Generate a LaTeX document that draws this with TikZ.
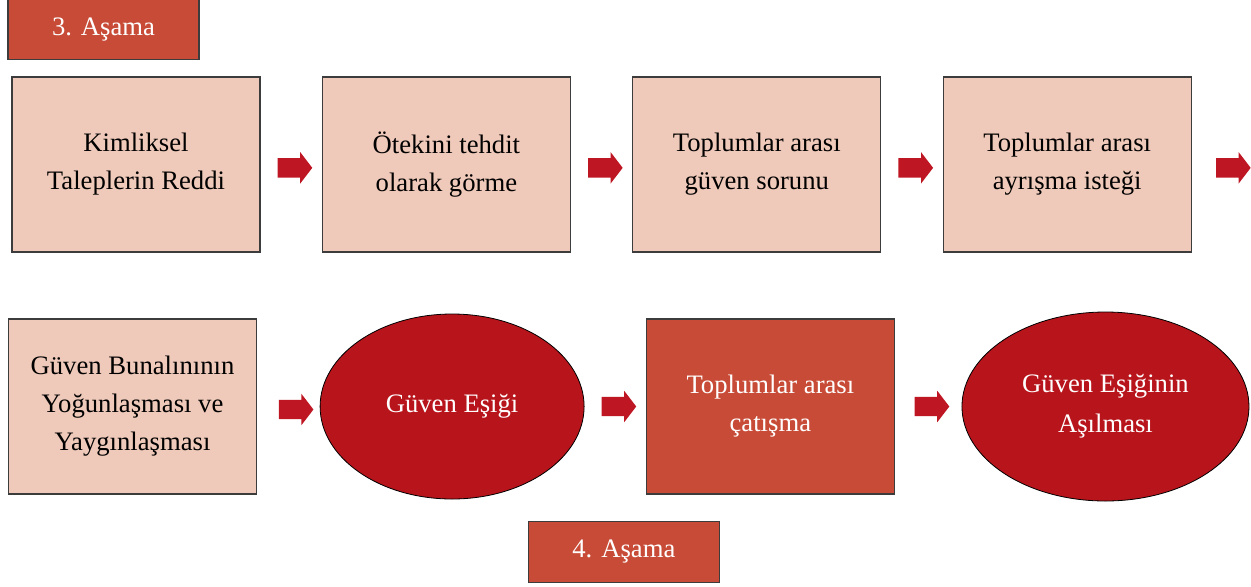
\documentclass[tikz,border=0pt]{standalone}
\usepackage{fontspec}
\setmainfont{Liberation Serif}
\usepackage{xcolor}
\usepackage{tikz}
\usetikzlibrary{positioning, calc, shapes.geometric, shapes.arrows}
\definecolor{asamapale}{HTML}{EFC9B9}
\definecolor{asamaorange}{HTML}{C84B37}
\definecolor{asamared}{HTML}{B8141B}
\definecolor{asamaarrow}{HTML}{BE1622}
\definecolor{asamadark}{HTML}{3C3C3C}
\tikzset{
  stepbox/.style={draw=asamadark, line width=0.8pt, fill=asamapale, align=center,
                  minimum width=186pt, minimum height=131.25pt, inner sep=4pt,
                  font=\fontsize{20}{28.5}\selectfont},
  hotbox/.style={stepbox, fill=asamaorange, text=white},
  oval/.style={ellipse, draw=black, line width=0.6pt, fill=asamared, text=white,
               align=center, inner sep=0pt, font=\fontsize{20}{30}\selectfont},
  stagebox/.style={draw=asamadark, line width=0.8pt, fill=asamaorange, text=white,
                   minimum width=143.25pt, minimum height=45.75pt, inner sep=0pt,
                   font=\fontsize{20}{24}\selectfont},
  flowarrow/.style={single arrow, fill=asamaarrow, draw=none, inner xsep=0pt,
                    inner ysep=7.1pt, minimum height=26pt,
                    single arrow head extend=4.5pt, single arrow tip angle=105},
}
\begin{document}
\begin{tikzpicture}[x=0.75pt, y=-0.75pt, node distance=46pt]
  \useasboundingbox (0,0) rectangle (1251,586);

  % 3. Asama
  \node[stepbox] (ret) at (136,164.5) {Kimliksel\\Taleplerin Reddi};
  \node[stepbox, right=of ret] (tehdit) {Ötekini tehdit\\olarak görme};
  \node[stepbox, right=of tehdit] (guven) {Toplumlar arası\\güven sorunu};
  \node[stepbox, right=of guven] (ayrisma) {Toplumlar arası\\ayrışma isteği};
  \node[stagebox, above right=12pt and -3pt of ret.north west] (asama3) {3. Aşama};

  % 4. Asama
  \node[stepbox] (bunalim) at (132.5,406.5)
    {Güven Bunalınının\\Yoğunlaşması ve\\Yaygınlaşması};
  \node[oval, minimum width=198pt, minimum height=138.75pt, right=47pt of bunalim]
    (esik) {Güven Eşiği};
  \node[hotbox, right=of esik] (catisma) {Toplumlar arası\\çatışma};
  \node[oval, minimum width=215.25pt, minimum height=141.75pt, right=50pt of catisma]
    (asilma) {Güven Eşiğinin\\Aşılması};
  \node[stagebox, below right=19.5pt and -88.5pt of catisma.south west] (asama4) {4. Aşama};

  % arrows
  \node[flowarrow, yshift=-2.5pt] at ($(ret.east)!0.5!(tehdit.west)$) {};
  \node[flowarrow, yshift=-2.5pt] at ($(tehdit.east)!0.5!(guven.west)$) {};
  \node[flowarrow, yshift=-2.5pt] at ($(guven.east)!0.5!(ayrisma.west)$) {};
  \node[flowarrow, yshift=-2.5pt, anchor=west, right=18pt of ayrisma] {};
  \node[flowarrow] at ($(bunalim.east)!0.5!(esik.west)+(4,3)$) {};
  \node[flowarrow] at ($(esik.east)!0.5!(catisma.west)$) {};
  \node[flowarrow] at ($(catisma.east)!0.5!(asilma.west)$) {};
\end{tikzpicture}
\end{document}
